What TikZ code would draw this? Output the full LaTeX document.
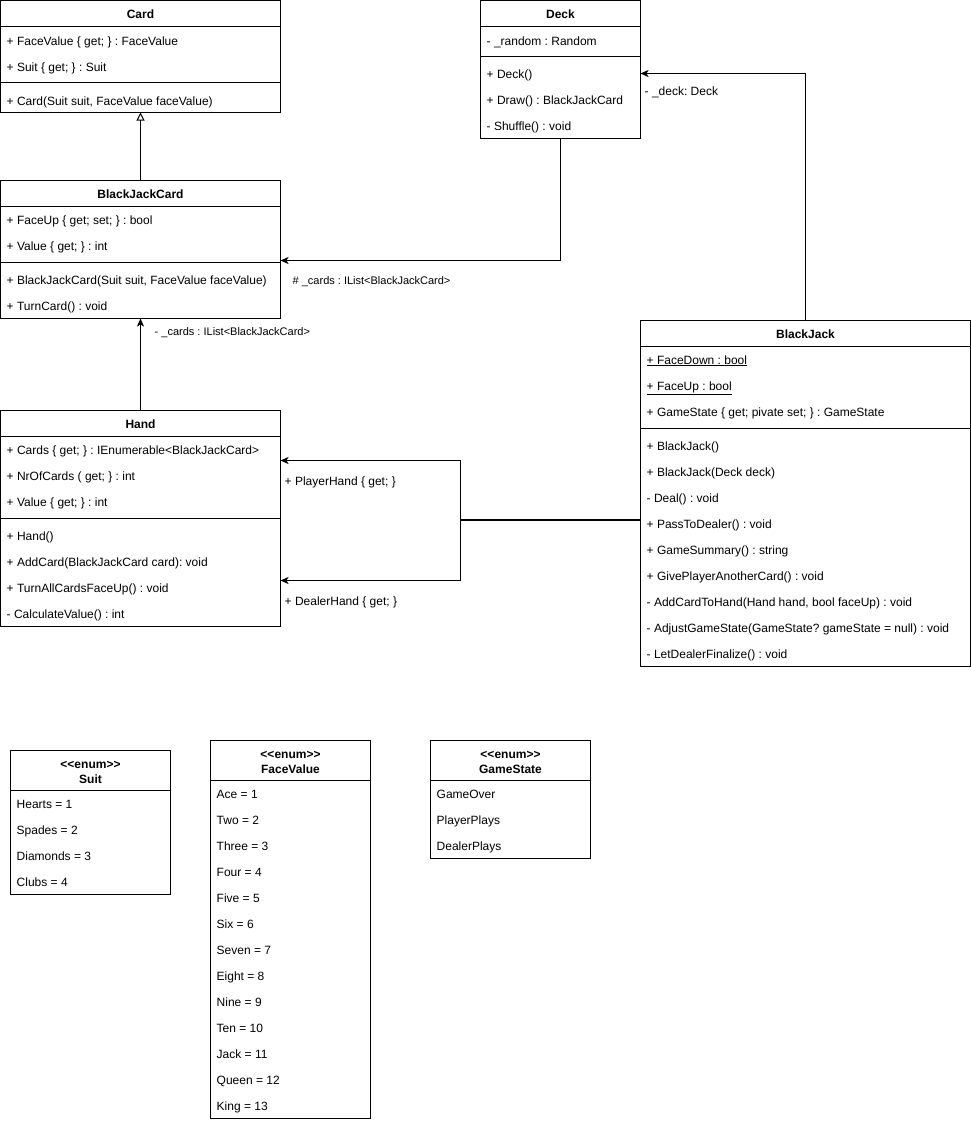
\documentclass[tikz,border=0pt]{standalone}
\usepackage{fontspec}
\setmainfont{Liberation Sans}
\usetikzlibrary{arrows.meta}
\begin{document}
\frenchspacing
\begin{tikzpicture}[x=1pt,y=-1pt,
  cls/.style={draw, line width=1pt, inner sep=0pt, outer sep=0pt},
  sep/.style={line width=1pt},
  attr/.style={anchor=base west, inner sep=0pt, font=\fontsize{12}{14}\selectfont\frenchspacing},
  ttl/.style={anchor=base, inner sep=0pt, font=\fontsize{12}{14}\selectfont\bfseries},
  lbl/.style={anchor=base west, inner sep=0pt, font=\fontsize{12}{14}\selectfont\frenchspacing},
  lbls/.style={anchor=base west, inner sep=0pt, font=\fontsize{11}{13}\selectfont\frenchspacing},
  assoc/.style={line width=1pt, -{Stealth[length=8pt,width=7pt,inset=2pt]}},
  inh/.style={line width=1pt, -{Triangle[open,length=8pt,width=8pt,fill=white]}}
]
\useasboundingbox (-0.5,-0.5) rectangle (970.5,1121.5);

% ---------- Card ----------
\node[cls, minimum width=280pt, minimum height=112pt] (card) at (140,56) {};
\draw[sep] (0,26) -- (280,26);
\draw[sep] (0,82) -- (280,82);
\node[ttl] (card-t) at (140,13+4.6) {Card};
\node[attr] (card-a1) at (6,40+4.6) {+ FaceValue \{ get; \} : FaceValue};
\node[attr] (card-a2) at (6,66+4.6) {+ Suit \{ get; \} : Suit};
\node[attr] (card-m1) at (6,100+4.6) {+ Card(Suit suit, FaceValue faceValue)};

% ---------- BlackJackCard ----------
\node[cls, minimum width=280pt, minimum height=138pt] (bjc) at (140,249) {};
\draw[sep] (0,206) -- (280,206);
\draw[sep] (0,262) -- (280,262);
\node[ttl] (bjc-t) at (140,193+4.6) {BlackJackCard};
\node[attr] (bjc-a1) at (6,219+4.6) {+ FaceUp \{ get; set; \} : bool};
\node[attr] (bjc-a2) at (6,245+4.6) {+ Value \{ get; \} : int};
\node[attr] (bjc-m1) at (6,279+4.6) {+ BlackJackCard(Suit suit, FaceValue faceValue)};
\node[attr] (bjc-m2) at (6,305+4.6) {+ TurnCard() : void};

% ---------- Deck ----------
\node[cls, minimum width=160pt, minimum height=138pt] (deck) at (560,69) {};
\draw[sep] (480,26) -- (640,26);
\draw[sep] (480,56) -- (640,56);
\node[ttl] (deck-t) at (560,13+4.6) {Deck};
\node[attr] (deck-a1) at (486,40+4.6) {- \_random : Random};
\node[attr] (deck-m1) at (486,73+4.6) {+ Deck()};
\node[attr] (deck-m2) at (486,99+4.6) {+ Draw() : BlackJackCard};
\node[attr] (deck-m3) at (486,125+4.6) {- Shuffle() : void};

% ---------- Hand ----------
\node[cls, minimum width=280pt, minimum height=216pt] (hand) at (140,518) {};
\draw[sep] (0,436) -- (280,436);
\draw[sep] (0,518) -- (280,518);
\node[ttl] (hand-t) at (140,423+4.6) {Hand};
\node[attr] (hand-a1) at (6,449+4.6) {+ Cards \{ get; \} : IEnumerable<BlackJackCard>};
\node[attr] (hand-a2) at (6,475+4.6) {+ NrOfCards ( get; \} : int};
\node[attr] (hand-a3) at (6,501+4.6) {+ Value \{ get; \} : int};
\node[attr] (hand-m1) at (6,535+4.6) {+ Hand()};
\node[attr] (hand-m2) at (6,561+4.6) {+ AddCard(BlackJackCard card): void};
\node[attr] (hand-m3) at (6,587+4.6) {+ TurnAllCardsFaceUp() : void};
\node[attr] (hand-m4) at (6,613+4.6) {- CalculateValue() : int};

% ---------- BlackJack ----------
\node[cls, minimum width=330pt, minimum height=346pt] (bj) at (805,493) {};
\draw[sep] (640,346) -- (970,346);
\draw[sep] (640,428) -- (970,428);
\node[ttl] (bj-t) at (805,333+4.6) {BlackJack};
\node[attr] (bj-a1) at (646,359+4.6) {\underline{+ FaceDown : bool}};
\node[attr] (bj-a2) at (646,385+4.6) {\underline{+ FaceUp : bool}};
\node[attr] (bj-a3) at (646,411+4.6) {+ GameState \{ get; pivate set; \} : GameState};
\node[attr] (bj-m1) at (646,445+4.6) {+ BlackJack()};
\node[attr] (bj-m2) at (646,471+4.6) {+ BlackJack(Deck deck)};
\node[attr] (bj-m3) at (646,497+4.6) {- Deal() : void};
\node[attr] (bj-m4) at (646,523+4.6) {+ PassToDealer() : void};
\node[attr] (bj-m5) at (646,549+4.6) {+ GameSummary() : string};
\node[attr] (bj-m6) at (646,575+4.6) {+ GivePlayerAnotherCard() : void};
\node[attr] (bj-m7) at (646,601+4.6) {- AddCardToHand(Hand hand, bool faceUp) : void};
\node[attr] (bj-m8) at (646,627+4.6) {- AdjustGameState(GameState? gameState = null) : void};
\node[attr] (bj-m9) at (646,653+4.6) {- LetDealerFinalize() : void};

% ---------- Suit ----------
\node[cls, minimum width=160pt, minimum height=144pt] (suit) at (90,822) {};
\draw[sep] (10,790) -- (170,790);
\node[ttl] (suit-s) at (90,763+4.6) {<{}<enum>{}>};
\node[ttl] (suit-t) at (90,778+4.6) {Suit};
\node[attr] (suit-1) at (16,803+4.6) {Hearts = 1};
\node[attr] (suit-2) at (16,829+4.6) {Spades = 2};
\node[attr] (suit-3) at (16,855+4.6) {Diamonds = 3};
\node[attr] (suit-4) at (16,881+4.6) {Clubs = 4};

% ---------- FaceValue ----------
\node[cls, minimum width=160pt, minimum height=378pt] (fv) at (290,929) {};
\draw[sep] (210,780) -- (370,780);
\node[ttl] (fv-s) at (290,753+4.6) {<{}<enum>{}>};
\node[ttl] (fv-t) at (290,768+4.6) {FaceValue};
\foreach \t [count=\i] in {Ace = 1,Two = 2,Three = 3,Four = 4,Five = 5,Six = 6,Seven = 7,Eight = 8,Nine = 9,Ten = 10,Jack = 11,Queen = 12,King = 13}
  \node[attr] (fv-\i) at (216,793+26*\i-26+4.6) {\t};

% ---------- GameState ----------
\node[cls, minimum width=160pt, minimum height=118pt] (gs) at (510,799) {};
\draw[sep] (430,780) -- (590,780);
\node[ttl] (gs-s) at (510,753+4.6) {<{}<enum>{}>};
\node[ttl] (gs-t) at (510,768+4.6) {GameState};
\node[attr] (gs-1) at (436,793+4.6) {GameOver};
\node[attr] (gs-2) at (436,819+4.6) {PlayerPlays};
\node[attr] (gs-3) at (436,845+4.6) {DealerPlays};

% ---------- connectors ----------
\draw[inh] (bjc.north) -- (card.south);
\draw[assoc] (hand.north) -- (bjc.south);
\node[lbls] (l-cards1) at (154,331+4.2) {- \_cards : IList<BlackJackCard>};

\coordinate (bjcE) at (280,260);
\draw[assoc] (deck.south) |- (bjcE);
\node[lbls] (l-cards2) at (292,280+4.2) {\# \_cards : IList<BlackJackCard>};

\coordinate (deckE) at (640,73);
\draw[assoc] (bj.north) |- (deckE);
\node[lbl] (l-deck) at (644,90+4.6) {- \_deck: Deck};

\coordinate (bjW1) at (640,518.6);
\coordinate (jn1) at (460,518.6);
\coordinate (bjW2) at (640,519.6);
\coordinate (jn2) at (460,519.6);
\coordinate (handP) at (280,460);
\coordinate (handD) at (280,580);
\draw[assoc] (bjW1) -- (jn1) |- (handP);
\draw[assoc] (bjW2) -- (jn2) |- (handD);
\node[lbl] (l-player) at (284,480+4.6) {+ PlayerHand \{ get; \}};
\node[lbl] (l-dealer) at (284,600+4.6) {+ DealerHand \{ get; \}};
\end{tikzpicture}
\end{document}
